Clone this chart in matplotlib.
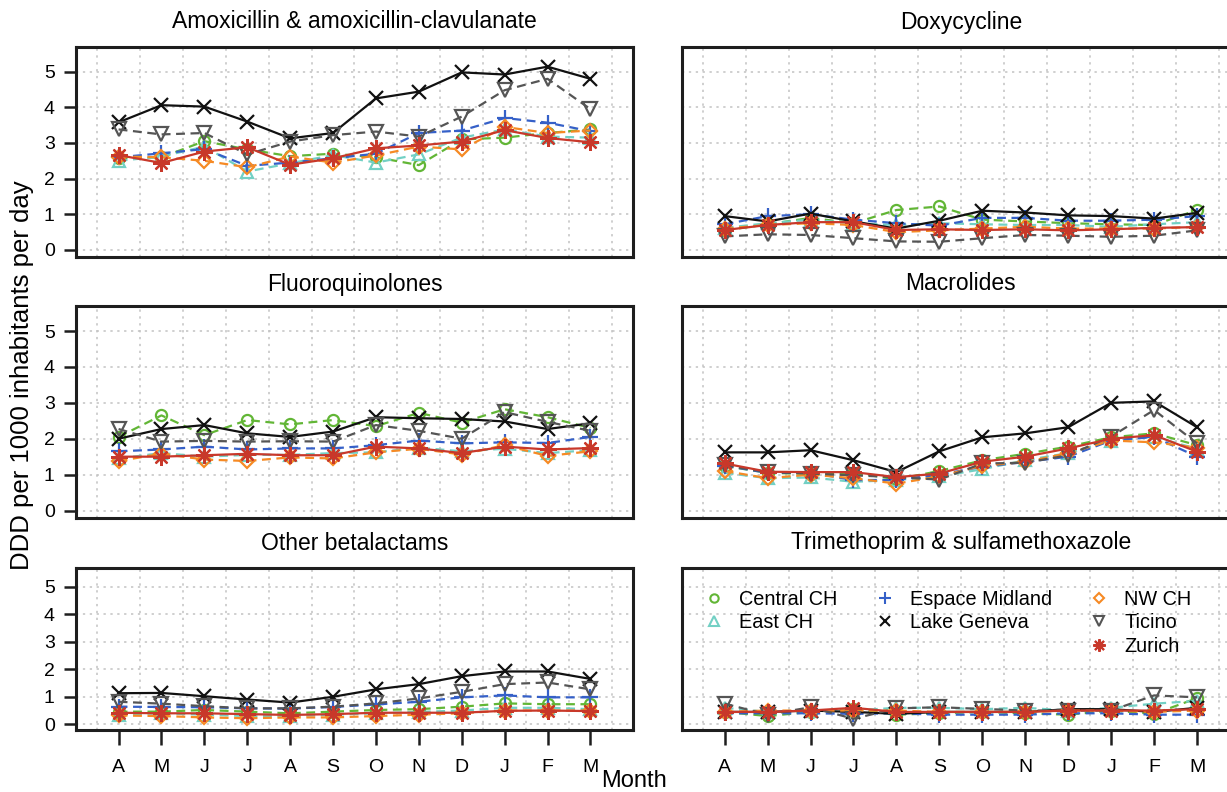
import numpy as np
import matplotlib
matplotlib.use('Agg')
from matplotlib import pyplot as plt
from matplotlib.lines import Line2D

plt.rcParams['font.family'] = ['Liberation Sans', 'DejaVu Sans']

months = ['A', 'M', 'J', 'J', 'A', 'S', 'O', 'N', 'D', 'J', 'F', 'M']
regions = ['Central CH', 'East CH', 'Espace Midland', 'Lake Geneva', 'NW CH', 'Ticino', 'Zurich']
titles = ['Amoxicillin & amoxicillin-clavulanate', 'Doxycycline', 'Fluoroquinolones',
          'Macrolides', 'Other betalactams', 'Trimethoprim & sulfamethoxazole']

# rows follow the order of `regions`
amoxicillin = [
    [2.57, 2.60, 3.05, 2.82, 2.63, 2.70, 2.60, 2.38, 3.10, 3.15, 3.28, 3.38],
    [2.50, 2.62, 2.90, 2.20, 2.43, 2.66, 2.45, 2.68, 3.15, 3.38, 3.18, 3.15],
    [2.60, 2.71, 2.83, 2.36, 2.45, 2.57, 2.70, 3.28, 3.35, 3.70, 3.57, 3.33],
    [3.58, 4.06, 4.02, 3.60, 3.13, 3.28, 4.25, 4.44, 4.98, 4.92, 5.14, 4.80],
    [2.62, 2.60, 2.50, 2.32, 2.62, 2.45, 2.65, 2.90, 2.82, 3.45, 3.28, 3.35],
    [3.38, 3.24, 3.28, 2.68, 3.04, 3.22, 3.32, 3.18, 3.74, 4.48, 4.80, 3.95],
    [2.66, 2.44, 2.76, 2.88, 2.39, 2.57, 2.85, 2.93, 3.04, 3.36, 3.14, 3.02],
]
doxycycline = [
    [0.55, 0.72, 0.90, 0.75, 1.12, 1.22, 0.85, 0.80, 0.75, 0.72, 0.70, 1.12],
    [0.62, 0.75, 0.85, 0.75, 0.70, 0.75, 0.72, 0.70, 0.70, 0.65, 0.72, 0.78],
    [0.72, 0.95, 1.00, 0.85, 0.75, 0.68, 0.90, 0.90, 0.82, 0.82, 0.85, 0.95],
    [0.95, 0.80, 1.02, 0.80, 0.60, 0.82, 1.10, 1.05, 0.97, 0.95, 0.88, 1.04],
    [0.60, 0.70, 0.75, 0.70, 0.50, 0.55, 0.60, 0.65, 0.60, 0.60, 0.60, 0.65],
    [0.38, 0.44, 0.42, 0.33, 0.24, 0.23, 0.33, 0.42, 0.40, 0.37, 0.40, 0.55],
    [0.56, 0.70, 0.78, 0.78, 0.56, 0.58, 0.56, 0.58, 0.55, 0.58, 0.62, 0.64],
]
fluoroquinolones = [
    [2.05, 2.65, 2.10, 2.52, 2.40, 2.52, 2.35, 2.72, 2.45, 2.82, 2.60, 2.30],
    [1.45, 1.60, 1.50, 1.55, 1.55, 1.60, 1.62, 1.75, 1.65, 1.72, 1.60, 1.68],
    [1.65, 1.70, 1.78, 1.70, 1.73, 1.73, 1.82, 1.95, 1.87, 1.90, 1.88, 2.05],
    [2.00, 2.27, 2.38, 2.15, 2.05, 2.20, 2.60, 2.57, 2.55, 2.48, 2.27, 2.43],
    [1.38, 1.58, 1.42, 1.38, 1.48, 1.45, 1.62, 1.72, 1.56, 1.82, 1.52, 1.65],
    [2.27, 1.92, 1.94, 1.92, 1.93, 1.92, 2.38, 2.22, 2.00, 2.74, 2.47, 2.22],
    [1.50, 1.50, 1.54, 1.58, 1.54, 1.54, 1.78, 1.73, 1.60, 1.78, 1.70, 1.74],
]
macrolides = [
    [1.24, 1.05, 1.02, 1.05, 0.87, 1.10, 1.40, 1.58, 1.78, 2.04, 2.15, 1.82],
    [1.05, 0.90, 0.92, 0.80, 0.85, 0.95, 1.15, 1.40, 1.60, 1.95, 2.05, 1.72],
    [1.25, 1.05, 1.05, 0.85, 0.85, 1.00, 1.22, 1.35, 1.50, 1.95, 2.05, 1.50],
    [1.62, 1.62, 1.68, 1.40, 1.07, 1.65, 2.04, 2.15, 2.32, 3.00, 3.04, 2.32],
    [1.10, 0.90, 1.00, 0.90, 0.75, 0.95, 1.25, 1.35, 1.60, 1.95, 1.90, 1.75],
    [1.26, 1.07, 1.03, 0.98, 0.93, 0.86, 1.31, 1.33, 1.54, 2.06, 2.80, 1.87],
    [1.31, 1.08, 1.07, 1.07, 0.93, 1.03, 1.36, 1.50, 1.73, 2.00, 2.10, 1.64],
]
betalactams = [
    [0.46, 0.46, 0.52, 0.46, 0.40, 0.46, 0.52, 0.55, 0.64, 0.76, 0.73, 0.73],
    [0.35, 0.40, 0.35, 0.30, 0.30, 0.35, 0.40, 0.45, 0.50, 0.60, 0.60, 0.55],
    [0.64, 0.63, 0.62, 0.58, 0.57, 0.63, 0.72, 0.82, 0.98, 1.05, 0.98, 0.98],
    [1.13, 1.14, 1.02, 0.90, 0.79, 1.00, 1.27, 1.46, 1.75, 1.92, 1.92, 1.65],
    [0.32, 0.30, 0.25, 0.22, 0.25, 0.25, 0.30, 0.35, 0.40, 0.50, 0.50, 0.50],
    [0.82, 0.75, 0.66, 0.58, 0.58, 0.64, 0.76, 0.94, 1.18, 1.46, 1.52, 1.27],
    [0.42, 0.40, 0.40, 0.37, 0.34, 0.37, 0.42, 0.42, 0.42, 0.49, 0.50, 0.48],
]
trimethoprim = [
    [0.45, 0.30, 0.45, 0.55, 0.35, 0.40, 0.45, 0.40, 0.35, 0.50, 0.38, 0.95],
    [0.60, 0.45, 0.50, 0.50, 0.60, 0.60, 0.55, 0.60, 0.50, 0.60, 0.75, 0.85],
    [0.40, 0.40, 0.40, 0.38, 0.40, 0.35, 0.35, 0.35, 0.40, 0.40, 0.35, 0.35],
    [0.45, 0.45, 0.50, 0.45, 0.38, 0.45, 0.45, 0.45, 0.55, 0.55, 0.45, 0.60],
    [0.45, 0.50, 0.50, 0.50, 0.50, 0.45, 0.45, 0.45, 0.50, 0.50, 0.45, 0.50],
    [0.75, 0.35, 0.62, 0.20, 0.58, 0.62, 0.56, 0.50, 0.50, 0.50, 1.05, 0.98],
    [0.45, 0.45, 0.50, 0.60, 0.45, 0.45, 0.45, 0.45, 0.50, 0.50, 0.50, 0.55],
]
panel_data = [amoxicillin, doxycycline, fluoroquinolones, macrolides, betalactams, trimethoprim]

colors = ['#62b636', '#72d0c4', '#3560c8', '#111111', '#f68a24', '#555555', '#c8382a']
markers = ['o', '^', '+', 'x', 'D', 'v', (8, 2, 0)]
msizes = [8, 9, 11, 9.5, 7, 9.5, 12]
styles = ['--', '--', '--', '-', '--', '--', '-']
open_marks = ('o', '^', 'D', 'v')

W, H = 1227., 792.
fig = plt.figure(figsize=(W / 100, H / 100), dpi=100)

# panel boxes in pixels: (left, right), (top, bottom)
cols_px = [(75.7, 633.3), (681.7, 1240.0)]
rows_px = [(46.7, 257.1), (305.9, 517.7), (567.5, 729.8)]
title_y = [22, 284, 543]

x = np.arange(1, 13)
for i in range(6):
    r, c = divmod(i, 2)
    (x0, x1), (y0, y1) = cols_px[c], rows_px[r]
    ax = fig.add_axes([x0 / W, 1 - y1 / H, (x1 - x0) / W, (y1 - y0) / H])
    ax.set_xlim(0, 13)
    ax.set_ylim(-0.2, 5.7)
    for v in range(6):
        ax.axhline(v, color='#c2c2c2', lw=1.1, ls=(0, (1.5, 3)), zorder=0)
    for v in np.arange(0.5, 13, 1):
        ax.axvline(v, color='#c2c2c2', lw=1.1, ls=(0, (1.5, 3)), zorder=0)
    for k, vals in enumerate(panel_data[i]):
        mfc = 'none' if markers[k] in open_marks else colors[k]
        ax.plot(x, vals, color=colors[k], ls=styles[k], lw=1.6,
                dashes=(4, 2.5) if styles[k] == '--' else (None, None),
                marker=markers[k], ms=msizes[k], mfc=mfc, mec=colors[k], mew=1.6, zorder=2 + k)
    for s in ax.spines.values():
        s.set_linewidth(2.2)
        s.set_color('#1e1e1e')
    ax.set_yticks(range(6))
    ax.set_xticks(x)
    ax.tick_params(axis='y', length=9, width=1.8, color='#1e1e1e', labelsize=14, pad=6,
                   left=(c == 0), labelleft=(c == 0))
    ax.tick_params(axis='x', length=11, width=1.8, color='#1e1e1e', labelsize=14, pad=10,
                   bottom=(r == 2), labelbottom=(r == 2))
    if r == 2:
        ax.set_xticklabels(months)
    fig.text((x0 + x1) / 2 / W, 1 - title_y[r] / H, titles[i], ha='center', va='center', fontsize=16.5)

# legend in the last panel, three columns with padding slots
handles = []
for k in range(7):
    mfc = 'none' if markers[k] in open_marks else colors[k]
    handles.append(Line2D([], [], ls='none', marker=markers[k], ms=msizes[k] * 0.75, mfc=mfc,
                          mec=colors[k], mew=1.5))
blank = Line2D([], [], ls='none')
order = [0, 1, None, 2, 3, None, 4, 5, 6]
leg_h = [handles[j] if j is not None else blank for j in order]
leg_l = [regions[j] if j is not None else '' for j in order]
fig.legend(leg_h, leg_l, loc='upper left', bbox_to_anchor=(704 / W, 1 - 590 / H), ncol=3,
           frameon=False, fontsize=14.3, handlelength=1.0, handletextpad=0.75,
           columnspacing=1.9, labelspacing=0.22, borderpad=0, borderaxespad=0)

fig.text(22 / W, 1 - 375 / H, 'DDD per 1000 inhabitants per day', rotation=90,
         ha='center', va='center', fontsize=18.5)
fig.text(634 / W, 1 - 781 / H, 'Month', ha='center', va='center', fontsize=17)

fig.savefig('out.png', dpi=100)
